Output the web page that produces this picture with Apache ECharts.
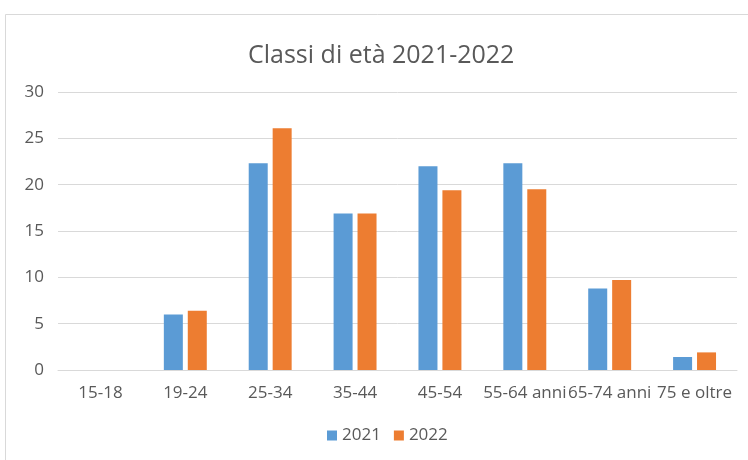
<!DOCTYPE html>
<html><head><meta charset="utf-8">
<script src="https://cdn.jsdelivr.net/npm/echarts@6/dist/echarts.min.js"></script>
<style>html,body{margin:0;padding:0;background:#fff}#c{width:748px;height:460px}</style>
</head><body><div id="c"></div>
<script>
const categories = ['15-18','19-24','25-34','35-44','45-54','55-64 anni','65-74 anni','75 e oltre'];
const values2021 = [0, 6.0, 22.3, 16.9, 22.0, 22.3, 8.8, 1.4];
const values2022 = [0, 6.4, 26.1, 16.9, 19.4, 19.5, 9.7, 1.9];
const yTicks = [0, 5, 10, 15, 20, 25, 30];

const chart = echarts.init(document.getElementById('c'), null, {renderer:'canvas'});
const font = '"Open Sans", "Liberation Sans", sans-serif';
chart.setOption({
  animation:false,
  backgroundColor:'#fff',
  graphic:[{type:'rect',shape:{x:5.5,y:14.5,width:760,height:460},style:{fill:'none',stroke:'#d9d9d9',lineWidth:1},silent:true}],
  title:{text:'Classi di età 2021-2022',left:248,top:43,padding:0,textStyle:{fontFamily:font,fontSize:25,fontWeight:'normal',color:'#595959'}},
  grid:{left:58,right:11,top:92,bottom:90,containLabel:false},
  legend:{top:427,left:327,itemWidth:10,itemHeight:10,itemGap:13,icon:'rect',padding:0,textStyle:{fontFamily:font,fontSize:17,color:'#595959'}},
  xAxis:{type:'category',data:categories,axisTick:{show:false},axisLine:{lineStyle:{color:'#d9d9d9',width:1}},
    axisLabel:{fontFamily:font,fontSize:17,color:'#595959',margin:15,interval:0}},
  yAxis:{type:'value',min:yTicks[0],max:yTicks[yTicks.length-1],interval:5,axisLine:{show:false},axisTick:{show:false},
    splitLine:{lineStyle:{color:'#d9d9d9',width:1}},
    axisLabel:{fontFamily:font,fontSize:17,color:'#595959',margin:14}},
  series:[
    {name:'2021',type:'bar',data:values2021,barWidth:19,barGap:'26%',itemStyle:{color:'#5b9bd5'}},
    {name:'2022',type:'bar',data:values2022,barWidth:19,barGap:'26%',itemStyle:{color:'#ed7d31'}}
  ]
});
</script></body></html>
